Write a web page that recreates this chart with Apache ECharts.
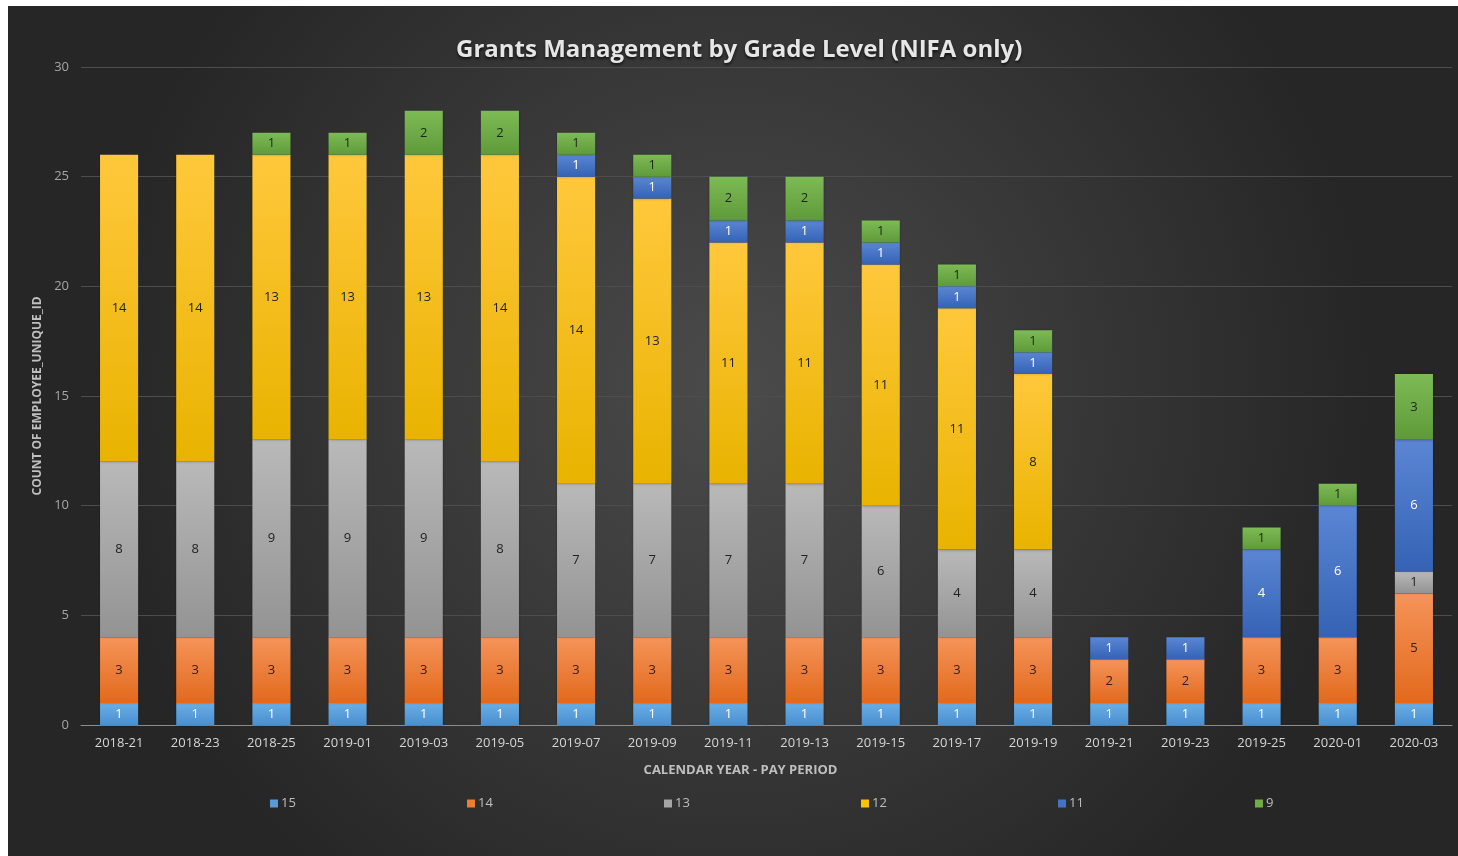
<!DOCTYPE html>
<html>
<head>
<meta charset="utf-8">
<script src="https://cdn.jsdelivr.net/npm/echarts@6/dist/echarts.min.js"></script>
<style>
  html, body { margin: 0; padding: 0; background: #ffffff; }
  #chart { position: absolute; left: 8px; top: 6px; width: 1450px; height: 850px; }
</style>
</head>
<body>
<div id="chart"></div>
<script>
const periods = ['2018-21', '2018-23', '2018-25', '2019-01', '2019-03', '2019-05', '2019-07', '2019-09', '2019-11',
  '2019-13', '2019-15', '2019-17', '2019-19', '2019-21', '2019-23', '2019-25', '2020-01', '2020-03']

const grade15 = [1, 1, 1, 1, 1, 1, 1, 1, 1, 1, 1, 1, 1, 1, 1, 1, 1, 1]
const grade14 = [3, 3, 3, 3, 3, 3, 3, 3, 3, 3, 3, 3, 3, 2, 2, 3, 3, 5]
const grade13 = [8, 8, 9, 9, 9, 8, 7, 7, 7, 7, 6, 4, 4, 0, 0, 0, 0, 1]
const grade12 = [14, 14, 13, 13, 13, 14, 14, 13, 11, 11, 11, 11, 8, 0, 0, 0, 0, 0]
const grade11 = [0, 0, 0, 0, 0, 0, 1, 1, 1, 1, 1, 1, 1, 1, 1, 4, 6, 6]
const grade9 = [0, 0, 1, 1, 2, 2, 1, 1, 2, 2, 1, 1, 1, 0, 0, 1, 1, 3]

const yTicks = [0, 5, 10, 15, 20, 25, 30]

const font = '"Open Sans", "Noto Sans", sans-serif'

function grad(top, bottom) {
  return new echarts.graphic.LinearGradient(0, 0, 0, 1, [
    { offset: 0, color: top },
    { offset: 1, color: bottom }
  ])
}

const grades = [
  { name: '15', data: grade15, top: '#6aaee6', bottom: '#4a8fcf', swatch: '#5b9bd5', label: '#ffffff' },
  { name: '14', data: grade14, top: '#f5945a', bottom: '#e2691c', swatch: '#ed7d31', label: '#3a1a05' },
  { name: '13', data: grade13, top: '#b9b9b9', bottom: '#939393', swatch: '#a5a5a5', label: '#222222' },
  { name: '12', data: grade12, top: '#ffc83c', bottom: '#e9b300', swatch: '#ffc000', label: '#222222' },
  { name: '11', data: grade11, top: '#5a86d4', bottom: '#3562b4', swatch: '#4472c4', label: '#ffffff' },
  { name: '9', data: grade9, top: '#7dbb55', bottom: '#5f9a3a', swatch: '#70ad47', label: '#1a2a10' }
]

const legendLeft = [257, 454, 651, 848, 1045, 1242]

const chart = echarts.init(document.getElementById('chart'))

chart.setOption({
  animation: false,
  backgroundColor: new echarts.graphic.RadialGradient(0.5, 0.45, 0.75, [
    { offset: 0, color: '#4b4b4b' },
    { offset: 1, color: '#262626' }
  ]),
  textStyle: { fontFamily: font },
  title: {
    text: 'Grants Management by Grade Level (NIFA only)',
    left: 443,
    top: 27,
    textStyle: {
      color: '#e6e6e6',
      fontSize: 24,
      fontWeight: 'bold',
      fontFamily: font,
      textShadowColor: 'rgba(0,0,0,0.7)',
      textShadowBlur: 3,
      textShadowOffsetY: 2
    }
  },
  grid: { left: 73, right: 6, top: 61, bottom: 131, containLabel: false },
  legend: grades.map((g, i) => ({
    data: [{ name: g.name, itemStyle: { color: g.swatch } }],
    left: legendLeft[i],
    top: 786,
    itemWidth: 8,
    itemHeight: 8,
    itemGap: 0,
    icon: 'rect',
    textStyle: { color: '#bfbfbf', fontSize: 13, padding: [0, 0, 0, -2] }
  })),
  xAxis: {
    type: 'category',
    data: periods,
    name: 'CALENDAR YEAR - PAY PERIOD',
    nameLocation: 'middle',
    nameGap: 39,
    nameTextStyle: { color: '#bfbfbf', fontSize: 13, fontWeight: 'bold', padding: [0, 52, 0, 0] },
    axisLine: { lineStyle: { color: '#8c8c8c', width: 1 } },
    axisTick: { show: false },
    axisLabel: { color: '#d6d6d6', fontSize: 13, margin: 12 }
  },
  yAxis: {
    type: 'value',
    min: yTicks[0],
    max: yTicks[yTicks.length - 1],
    interval: 5,
    name: 'COUNT OF EMPLOYEE_UNIQUE_ID',
    nameLocation: 'middle',
    nameGap: 35,
    nameTextStyle: { color: '#bfbfbf', fontSize: 12, fontWeight: 'bold' },
    axisLine: { show: false },
    axisTick: { show: false },
    axisLabel: { color: '#a6a6a6', fontSize: 13, margin: 12 },
    splitLine: { lineStyle: { color: '#4d4d4d', width: 1 } }
  },
  series: grades.map(g => ({
    name: g.name,
    type: 'bar',
    stack: 'total',
    data: g.data,
    barWidth: '50%',
    itemStyle: {
      color: grad(g.top, g.bottom),
      shadowColor: 'rgba(0,0,0,0.35)',
      shadowBlur: 3
    },
    label: {
      show: true,
      position: 'inside',
      color: g.label,
      fontSize: 13,
      formatter: p => (p.value ? String(p.value) : '')
    }
  }))
})
</script>
</body>
</html>
